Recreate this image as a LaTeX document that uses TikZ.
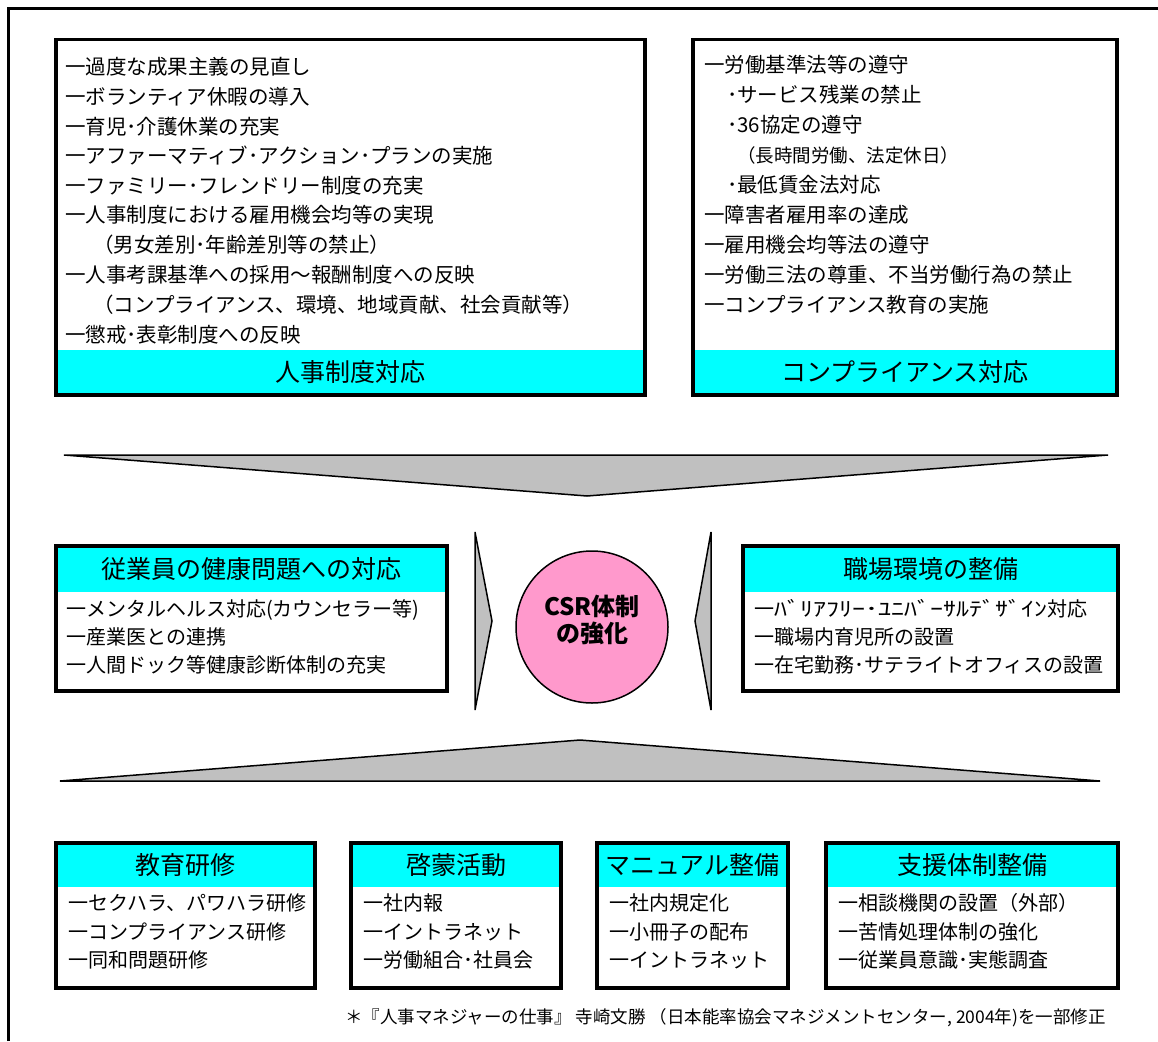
\documentclass[tikz,border=0pt]{standalone}
\usepackage{fontspec}
\usepackage{graphicx}
\newfontfamily\jp{Noto Sans CJK JP}
\definecolor{hdcyan}{RGB}{0,255,255}
\definecolor{csrpink}{RGB}{255,153,204}
\definecolor{chevgray}{RGB}{192,192,192}
\tikzset{
  frameline/.style={line width=3.5pt, line cap=butt},
  boxline/.style={draw=black, line width=3.5pt},
  band/.style={fill=hdcyan},
  itemL/.style={anchor=west, inner sep=0pt, text height=18pt, text depth=2.5pt, font=\jp\fontsize{20.5}{24}\selectfont},
  itemM/.style={anchor=west, inner sep=0pt, text height=17.6pt, text depth=2.4pt, font=\jp\fontsize{20}{24}\selectfont},
  itemS/.style={anchor=west, inner sep=0pt, text height=16.3pt, text depth=2.2pt, font=\jp\fontsize{18.5}{22}\selectfont},
  head/.style={inner sep=0pt, text height=22pt, text depth=3pt, font=\jp\fontsize{25}{30}\selectfont},
  chev/.style={draw=black, line width=1.5pt, fill=chevgray, line join=miter},
  note/.style={anchor=east, inner sep=0pt, font=\jp\fontsize{17.5}{20}\selectfont},
}
\begin{document}
\begin{tikzpicture}[x=1pt,y=-1pt]
\useasboundingbox (0,0) rectangle (1158,1041);
% outer frame
\draw[frameline] (8.5,1041) -- (8.5,8.5) -- (1158,8.5);

% top-left box
\fill[band] (56,350) rectangle (645,394);
\draw[boxline] (56,39.5) rectangle (645,395);
\foreach \xx/\yy/\txt [count=\i] in {
 65/67/一過度な成果主義の見直し,
 65/97/一ボランティア休暇の導入,
 65/127/一育児･介護休業の充実,
 65/156/一アファーマティブ･アクション･プランの実施,
 65/186/一ファミリー･フレンドリー制度の充実,
 65/215/一人事制度における雇用機会均等の実現,
 93/245/（男女差別･年齢差別等の禁止）,
 65/275/一人事考課基準への採用～報酬制度への反映,
 93/305/（コンプライアンス、環境、地域貢献、社会貢献等）,
 65/335/一懲戒･表彰制度への反映}
 \node[itemL] (hr\i) at (\xx,\yy) {\txt};
\node[head] (hrhead) at (350.5,372) {人事制度対応};

% top-right box
\fill[band] (693,350) rectangle (1117,394);
\draw[boxline] (693,39.5) rectangle (1117,395);
\foreach \xx/\yy/\txt [count=\i] in {
 704/65/一労働基準法等の遵守,
 727/95/･サービス残業の禁止,
 727/125/･36協定の遵守,
 727/185/･最低賃金法対応,
 704/215/一障害者雇用率の達成,
 704/245/一雇用機会均等法の遵守,
 704/275/一労働三法の尊重、不当労働行為の禁止,
 704/305/一コンプライアンス教育の実施}
 \node[itemL] (cp\i) at (\xx,\yy) {\txt};
\node[itemS] (cpsub) at (737,155) {（長時間労働、法定休日）};
\node[head] (cphead) at (905,372) {コンプライアンス対応};

% big down chevron
\draw[chev] (64,455) -- (1108,455) -- (587,496) -- cycle;

% middle-left box
\fill[band] (56,546) rectangle (447,592);
\draw[boxline] (56,546) rectangle (447,691);
\node[head] (hlhead) at (251.5,569) {従業員の健康問題への対応};
\foreach \yy/\txt [count=\i] in {
 609/一メンタルヘルス対応(カウンセラー等),
 637/一産業医との連携,
 665/一人間ドック等健康診断体制の充実}
 \node[itemM] (hl\i) at (66,\yy) {\txt};

% middle-right box
\fill[band] (743,546) rectangle (1118,592);
\draw[boxline] (743,546) rectangle (1118,691);
\node[head] (wphead) at (930.5,569) {職場環境の整備};
\node[itemM] (wp1) at (754,609) {一\scalebox{1.3}[1]{ﾊﾞﾘｱﾌﾘｰ･ﾕﾆﾊﾞｰｻﾙﾃﾞｻﾞｲﾝ}対応};
\node[itemM] (wp2) at (754,637) {一職場内育児所の設置};
\node[itemM] (wp3) at (754,665) {一在宅勤務･サテライトオフィスの設置};

% side chevrons
\draw[chev] (475,532) -- (492,621) -- (475,710) -- cycle;
\draw[chev] (711,532) -- (695,621) -- (711,710) -- cycle;

% centre circle
\node[circle, draw=black, line width=1.5pt, fill=csrpink, minimum size=152pt, inner sep=0pt] (csr) at (592,627) {};
\node[align=center, inner sep=0pt, font=\jp\bfseries\fontsize{24}{27}\selectfont] (csrlabel) at (592,620) {CSR体制\\の強化};

% big up chevron
\draw[chev] (60,781) -- (1100,781) -- (580,740) -- cycle;

% bottom boxes
\fill[band] (56,843) rectangle (315,887);
\draw[boxline] (56,843) rectangle (315,988);
\node[head] (b1head) at (185.5,865) {教育研修};
\foreach \yy/\txt [count=\i] in {903/一セクハラ、パワハラ研修, 932/一コンプライアンス研修, 960/一同和問題研修}
 \node[itemM] (b1i\i) at (68,\yy) {\txt};

\fill[band] (351,843) rectangle (561,887);
\draw[boxline] (351,843) rectangle (561,988);
\node[head] (b2head) at (456,865) {啓蒙活動};
\foreach \yy/\txt [count=\i] in {903/一社内報, 932/一イントラネット, 960/一労働組合･社員会}
 \node[itemM] (b2i\i) at (363,\yy) {\txt};

\fill[band] (597,843) rectangle (788,887);
\draw[boxline] (597,843) rectangle (788,988);
\node[head] (b3head) at (692.5,865) {マニュアル整備};
\foreach \yy/\txt [count=\i] in {903/一社内規定化, 932/一小冊子の配布, 960/一イントラネット}
 \node[itemM] (b3i\i) at (609,\yy) {\txt};

\fill[band] (826,843) rectangle (1118,887);
\draw[boxline] (826,843) rectangle (1118,988);
\node[head] (b4head) at (972,865) {支援体制整備};
\foreach \yy/\txt [count=\i] in {903/一相談機関の設置（外部）, 932/一苦情処理体制の強化, 960/一従業員意識･実態調査}
 \node[itemM] (b4i\i) at (838,\yy) {\txt};

% source note
\node[note] (src) at (1106,1018) {＊『人事マネジャーの仕事』 寺崎文勝 （日本能率協会マネジメントセンター, 2004年)を一部修正};
\end{tikzpicture}
\end{document}
